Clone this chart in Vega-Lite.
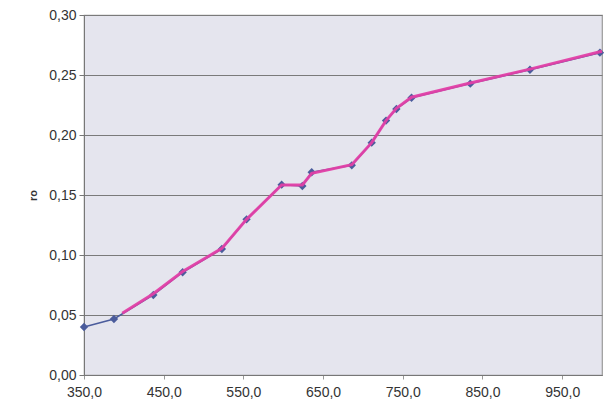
{
  "$schema": "https://vega.github.io/schema/vega-lite/v6.json",
  "autosize": "none",
  "width": 518,
  "height": 360,
  "padding": {"left": 84, "top": 15, "right": 6, "bottom": 29},
  "background": "white",
  "config": {
    "font": "Liberation Sans",
    "view": {"fill": "#e5e5ee", "stroke": "#9a9a9a", "strokeWidth": 1.2},
    "axis": {"labelFont": "Liberation Sans", "titleFont": "Liberation Sans"}
  },
  "datasets": {
    "measured": [
      {"x": 350, "ro": 0.040},
      {"x": 387.6, "ro": 0.0467},
      {"x": 437, "ro": 0.0667},
      {"x": 473.8, "ro": 0.0856},
      {"x": 523, "ro": 0.105},
      {"x": 554, "ro": 0.1297},
      {"x": 598, "ro": 0.1586},
      {"x": 624, "ro": 0.1575},
      {"x": 635.7, "ro": 0.169},
      {"x": 686, "ro": 0.1747},
      {"x": 711, "ro": 0.1936},
      {"x": 729, "ro": 0.212},
      {"x": 742, "ro": 0.2217},
      {"x": 761, "ro": 0.231},
      {"x": 834.7, "ro": 0.2428},
      {"x": 909.6, "ro": 0.2544},
      {"x": 997.4, "ro": 0.2686}
    ],
    "trend": [
      {"x": 398, "ro": 0.0515},
      {"x": 437, "ro": 0.0677},
      {"x": 473.8, "ro": 0.0862},
      {"x": 523, "ro": 0.1055},
      {"x": 554, "ro": 0.1297},
      {"x": 598, "ro": 0.1583},
      {"x": 624, "ro": 0.1583},
      {"x": 635.7, "ro": 0.168},
      {"x": 686, "ro": 0.1752},
      {"x": 711, "ro": 0.1936},
      {"x": 729, "ro": 0.212},
      {"x": 742, "ro": 0.2222},
      {"x": 761, "ro": 0.2315},
      {"x": 834.7, "ro": 0.2433},
      {"x": 909.6, "ro": 0.2549},
      {"x": 1000, "ro": 0.2698}
    ]
  },
  "layer": [
    {
      "data": {"name": "measured"},
      "mark": {"type": "line", "color": "#4b5c9c", "strokeWidth": 1.5, "point": {"shape": "diamond", "size": 70, "filled": true, "color": "#4b5c9c"}},
      "encoding": {
        "x": {
          "field": "x", "type": "quantitative",
          "scale": {"domain": [350, 1000], "nice": false, "zero": false},
          "axis": {
            "values": [350, 450, 550, 650, 750, 850, 950],
            "labelExpr": "replace(format(datum.value, '.1f'), '.', ',')",
            "labelFlush": false, "labelOverlap": false, "labelBound": false,
            "grid": false, "title": null,
            "labelFontSize": 14, "labelColor": "#333333",
            "domainColor": "#777777", "tickColor": "#999999", "tickSize": 4,
            "labelPadding": 6
          }
        },
        "y": {
          "field": "ro", "type": "quantitative",
          "scale": {"domain": [0, 0.3], "nice": false},
          "axis": {
            "values": [0, 0.05, 0.1, 0.15, 0.2, 0.25, 0.3],
            "labelExpr": "replace(format(datum.value, '.2f'), '.', ',')",
            "labelFlush": false, "labelOverlap": false, "labelBound": false,
            "grid": true, "gridColor": "#7a7a7a", "gridWidth": 1,
            "title": "ro", "titleFontSize": 11, "titleFontWeight": "bold", "titleColor": "#333333",
            "titlePadding": 10,
            "labelFontSize": 14, "labelColor": "#333333",
            "domainColor": "#777777", "tickColor": "#777777", "tickSize": 5,
            "labelPadding": 3
          }
        }
      }
    },
    {
      "data": {"name": "trend"},
      "mark": {"type": "line", "color": "#e23fa6", "strokeWidth": 3, "opacity": 0.95},
      "encoding": {
        "x": {"field": "x", "type": "quantitative"},
        "y": {"field": "ro", "type": "quantitative"}
      }
    }
  ]
}
